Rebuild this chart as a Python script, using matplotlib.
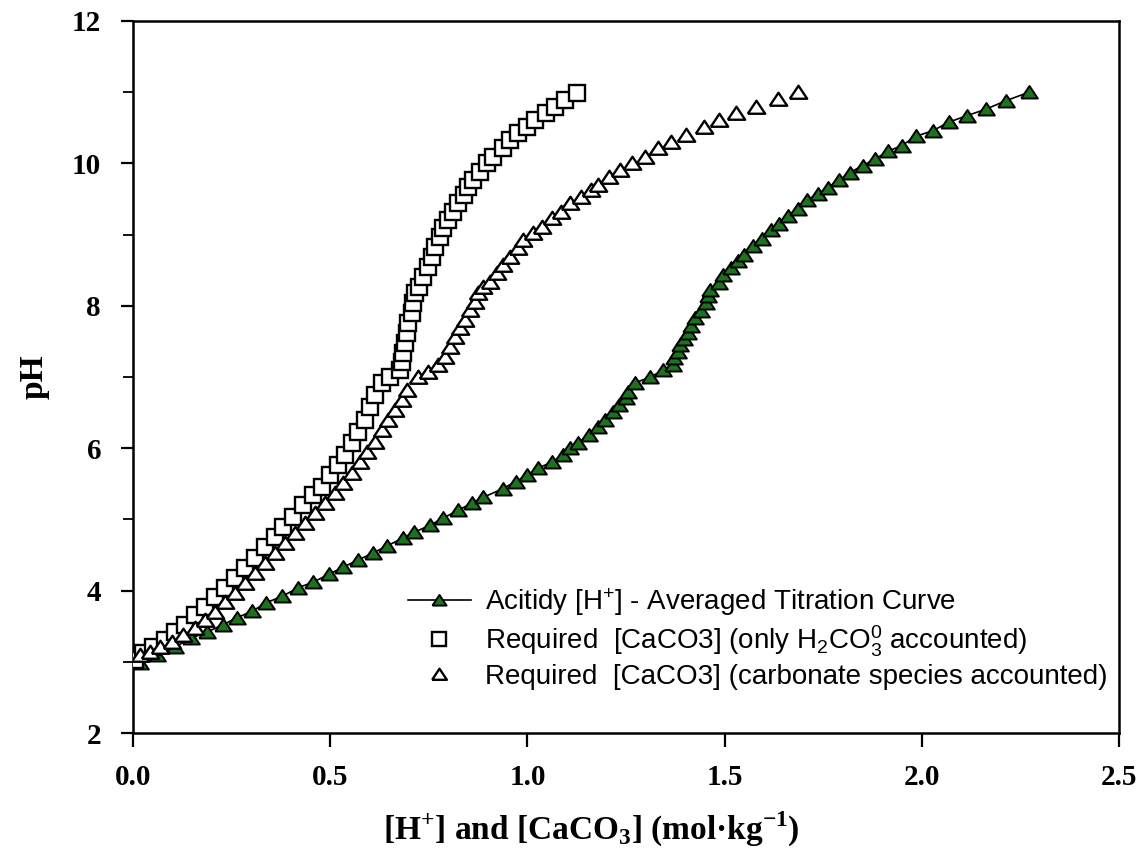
import matplotlib
matplotlib.use("Agg")
import matplotlib.pyplot as plt
from matplotlib.ticker import MultipleLocator, FormatStrFormatter

plt.rcParams['mathtext.fontset'] = 'custom'
plt.rcParams['mathtext.rm'] = 'Liberation Sans'
plt.rcParams['mathtext.it'] = 'Liberation Sans:italic'
plt.rcParams['mathtext.bf'] = 'Liberation Serif:bold'

# averaged titration curve: acidity [H+] vs pH
acid_x = [0.018, 0.061, 0.107, 0.147, 0.188, 0.228, 0.264, 0.302, 0.338, 0.378,
          0.419, 0.457, 0.497, 0.533, 0.571, 0.609, 0.645, 0.685, 0.713, 0.754,
          0.787, 0.825, 0.860, 0.888, 0.937, 0.970, 1.000, 1.028, 1.063, 1.089,
          1.109, 1.129, 1.155, 1.178, 1.198, 1.216, 1.231, 1.249, 1.254, 1.274,
          1.312, 1.345, 1.368, 1.371, 1.381, 1.388, 1.398, 1.406, 1.414, 1.426,
          1.439, 1.452, 1.457, 1.464, 1.485, 1.497, 1.515, 1.533, 1.548, 1.571,
          1.596, 1.617, 1.637, 1.660, 1.685, 1.708, 1.736, 1.761, 1.789, 1.817,
          1.850, 1.881, 1.914, 1.949, 1.985, 2.028, 2.069, 2.114, 2.162, 2.213,
          2.272]
acid_ph = [2.98, 3.10, 3.21, 3.33, 3.42, 3.52, 3.62, 3.71, 3.83, 3.92,
           4.04, 4.12, 4.23, 4.33, 4.43, 4.53, 4.63, 4.74, 4.82, 4.92,
           5.02, 5.13, 5.23, 5.31, 5.43, 5.53, 5.62, 5.72, 5.81, 5.90,
           6.00, 6.08, 6.18, 6.30, 6.40, 6.51, 6.61, 6.70, 6.79, 6.92,
           7.00, 7.10, 7.17, 7.27, 7.35, 7.45, 7.53, 7.62, 7.72, 7.83,
           7.93, 8.04, 8.14, 8.22, 8.32, 8.43, 8.53, 8.63, 8.71, 8.84,
           8.94, 9.06, 9.15, 9.26, 9.36, 9.48, 9.57, 9.66, 9.76, 9.87,
           9.97, 10.06, 10.17, 10.25, 10.38, 10.46, 10.58, 10.67, 10.76, 10.88,
           11.00]

# required CaCO3, only H2CO3 accounted
sq_x = [0.005, 0.025, 0.051, 0.081, 0.107, 0.132, 0.157, 0.183, 0.208, 0.234,
        0.259, 0.284, 0.310, 0.335, 0.360, 0.381, 0.406, 0.431, 0.457, 0.480,
        0.500, 0.520, 0.538, 0.556, 0.571, 0.589, 0.602, 0.614, 0.632, 0.652,
        0.678, 0.683, 0.685, 0.690, 0.695, 0.698, 0.708, 0.711, 0.716, 0.726,
        0.736, 0.749, 0.759, 0.766, 0.779, 0.787, 0.799, 0.812, 0.825, 0.838,
        0.850, 0.863, 0.881, 0.898, 0.914, 0.937, 0.957, 0.977, 1.000, 1.020,
        1.046, 1.071, 1.096, 1.127]
sq_ph = [3.03, 3.12, 3.21, 3.31, 3.42, 3.52, 3.66, 3.77, 3.91, 4.04,
         4.18, 4.32, 4.46, 4.61, 4.75, 4.89, 5.03, 5.20, 5.34, 5.46,
         5.62, 5.76, 5.90, 6.07, 6.23, 6.40, 6.58, 6.75, 6.92, 7.00,
         7.10, 7.21, 7.34, 7.48, 7.62, 7.76, 7.90, 8.04, 8.18, 8.26,
         8.40, 8.55, 8.69, 8.83, 8.97, 9.09, 9.21, 9.32, 9.44, 9.56,
         9.67, 9.77, 9.88, 10.01, 10.09, 10.22, 10.33, 10.43, 10.51, 10.61,
         10.71, 10.79, 10.89, 10.99]

# required CaCO3, carbonate species accounted
tri_x = [0.018, 0.043, 0.069, 0.099, 0.127, 0.157, 0.183, 0.208, 0.234, 0.259,
         0.284, 0.310, 0.335, 0.360, 0.386, 0.411, 0.437, 0.462, 0.487, 0.513,
         0.533, 0.556, 0.576, 0.594, 0.614, 0.632, 0.647, 0.665, 0.683, 0.695,
         0.723, 0.749, 0.774, 0.792, 0.805, 0.817, 0.830, 0.843, 0.855, 0.868,
         0.876, 0.888, 0.906, 0.924, 0.939, 0.957, 0.975, 0.990, 1.015, 1.038,
         1.063, 1.084, 1.109, 1.135, 1.160, 1.178, 1.206, 1.234, 1.264, 1.297,
         1.332, 1.363, 1.401, 1.447, 1.485, 1.530, 1.579, 1.635, 1.685]
tri_ph = [3.10, 3.14, 3.21, 3.28, 3.38, 3.47, 3.59, 3.70, 3.84, 3.97,
          4.11, 4.25, 4.39, 4.53, 4.67, 4.81, 4.95, 5.09, 5.23, 5.37,
          5.51, 5.65, 5.81, 5.95, 6.09, 6.26, 6.40, 6.54, 6.68, 6.82,
          7.00, 7.07, 7.17, 7.28, 7.42, 7.56, 7.69, 7.80, 7.94, 8.05,
          8.18, 8.26, 8.33, 8.46, 8.57, 8.69, 8.81, 8.92, 9.02, 9.11,
          9.23, 9.32, 9.44, 9.53, 9.63, 9.70, 9.81, 9.91, 10.00, 10.09,
          10.22, 10.30, 10.40, 10.51, 10.61, 10.71, 10.79, 10.90, 11.00]

labels = ["Acitidy [H$^{+}$] - Averaged Titration Curve",
          "Required  [CaCO3] (only H$_{2}$CO$_{3}^{0}$ accounted)",
          "Required  [CaCO3] (carbonate species accounted)"]

# a slightly flattened triangle, like the original marker
tri = [(-1, -0.72), (1, -0.72), (0, 0.78), (-1, -0.72)]

fig = plt.figure(figsize=(11.48, 8.63), dpi=100)
ax = fig.add_axes([133 / 1148, 130 / 863, 986 / 1148, 712 / 863])

ax.plot(acid_x, acid_ph, color='black', lw=1.2, marker=tri, ms=12,
        mfc='#1d731d', mec='black', mew=1.4, label=labels[0], zorder=2)
ax.plot(sq_x, sq_ph, ls='none', marker='s', ms=11.5, mfc='white',
        mec='black', mew=1.7, label=labels[1], zorder=3)
ax.plot(tri_x, tri_ph, ls='none', marker=tri, ms=12.5, mfc='white',
        mec='black', mew=1.7, label=labels[2], zorder=3)

ax.set_xlim(0, 2.5)
ax.set_ylim(2, 12)
ax.xaxis.set_major_locator(MultipleLocator(0.5))
ax.yaxis.set_major_locator(MultipleLocator(2))
ax.yaxis.set_minor_locator(MultipleLocator(1))
ax.tick_params(axis='x', direction='out', length=10, width=1.6, pad=12)
ax.tick_params(axis='y', which='major', direction='out', length=9, width=1.6, pad=14)
ax.tick_params(axis='y', which='minor', direction='out', length=7, width=1.3)
ax.xaxis.set_major_formatter(FormatStrFormatter('%.1f'))
for t in ax.get_xticklabels() + ax.get_yticklabels():
    t.set_fontfamily('Liberation Serif')
    t.set_fontweight('bold')
    t.set_fontsize(21)
for s in ax.spines.values():
    s.set_linewidth(1.8)

ax.set_ylabel('pH', family='Liberation Serif', weight='bold', fontsize=24, labelpad=16)
ax.set_xlabel(r'[H$^{\mathbf{+}}$] and [CaCO$_{\mathbf{3}}$] (mol·kg$^{\mathbf{-1}}$)',
              family='Liberation Serif', weight='bold', fontsize=24)
ax.xaxis.set_label_coords(0.465, -0.108)

ax.legend(loc='upper left', bbox_to_anchor=(0.265, 0.226), frameon=False,
          prop={'family': 'Liberation Sans', 'size': 20}, borderpad=0,
          handlelength=2.25, handletextpad=0.53, labelspacing=0.2, markerscale=0.85)

fig.savefig('out.png', dpi=100)
